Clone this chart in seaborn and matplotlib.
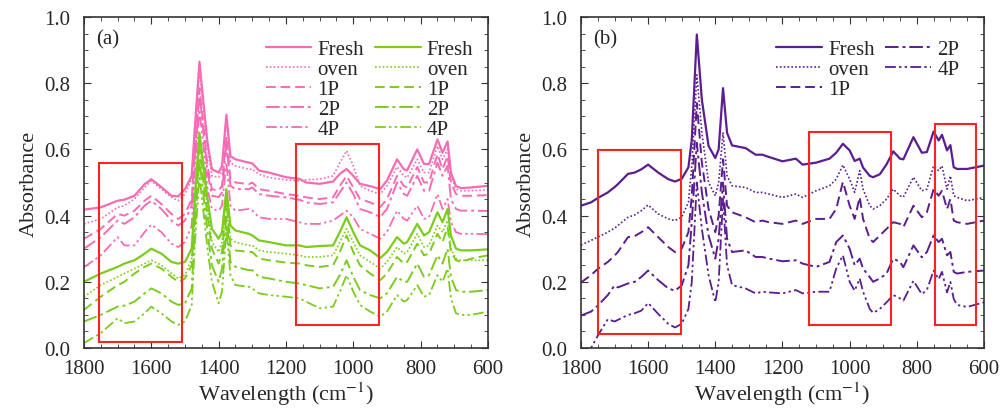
import matplotlib
matplotlib.use("Agg")
import matplotlib.pyplot as plt
import matplotlib.patches as patches
from matplotlib.ticker import MultipleLocator
import seaborn as sns

# wavenumber grids (cm-1)
wn_a = [1800, 1750, 1700, 1680, 1650, 1620, 1600, 1570, 1540, 1520, 1500, 1480, 1471, 1457, 1446, 1433,
        1420, 1400, 1390, 1377, 1365, 1350, 1310, 1300, 1280, 1250, 1200, 1160, 1140, 1100, 1060, 1040,
        1020, 1000, 980, 950, 920, 900, 870, 850, 840, 810, 790, 775, 750, 735, 720, 710, 695, 680, 650, 600]

wn_b = [1800, 1770, 1750, 1720, 1700, 1690, 1660, 1640, 1620, 1600, 1570, 1540, 1520, 1500, 1480, 1470,
        1455, 1440, 1420, 1400, 1390, 1377, 1365, 1350, 1310, 1280, 1260, 1240, 1200, 1160, 1140, 1100,
        1060, 1040, 1020, 1000, 985, 970, 960, 940, 930, 910, 890, 870, 850, 840, 810, 785, 770, 750,
        735, 725, 710, 700, 690, 680, 650, 600]

labels = ["Fresh", "oven", "1P", "2P", "4P"]

# panel (a) pink
pink_fresh = [.418, .425, .445, .448, .46, .495, .51, .486, .46, .458, .48, .52, .66, .865, .75, .62,
              .54, .53, .55, .705, .58, .57, .56, .558, .536, .53, .516, .511, .5, .496, .503, .526,
              .541, .52, .496, .489, .48, .506, .57, .54, .537, .6, .556, .556, .63, .59, .624, .53, .489, .483, .485, .49]
pink_oven = [.375, .39, .425, .43, .45, .485, .505, .48, .455, .445, .465, .51, .65, .84, .73, .6,
             .52, .516, .535, .69, .56, .55, .54, .54, .525, .515, .508, .505, .508, .51, .52, .56,
             .596, .55, .49, .475, .465, .49, .547, .52, .515, .57, .53, .53, .61, .57, .6, .52, .48, .475, .475, .478]
pink_1p = [.33, .36, .405, .40, .415, .445, .46, .435, .405, .39, .405, .45, .59, .785, .68, .55,
           .48, .475, .49, .64, .51, .50, .495, .5, .48, .475, .465, .46, .455, .45, .455, .49,
           .52, .485, .45, .44, .426, .45, .52, .49, .485, .547, .5, .5, .586, .54, .58, .5, .465, .46, .46, .462]
pink_2p = [.30, .335, .385, .375, .395, .43, .445, .42, .385, .37, .385, .43, .57, .77, .66, .53,
           .46, .456, .47, .62, .49, .48, .48, .485, .465, .46, .455, .448, .44, .435, .44, .47,
           .50, .465, .42, .41, .396, .42, .50, .465, .46, .52, .475, .475, .56, .52, .55, .45, .42, .415, .415, .414]
pink_4p = [.244, .28, .335, .31, .31, .35, .373, .35, .315, .305, .32, .37, .53, .72, .62, .48,
           .42, .415, .43, .56, .43, .415, .42, .415, .395, .39, .39, .38, .375, .375, .385, .4,
           .415, .395, .36, .345, .33, .35, .415, .39, .385, .43, .39, .395, .465, .42, .45, .38, .35, .345, .345, .344]

# panel (a) green
green_fresh = [.20, .225, .245, .255, .265, .285, .30, .285, .26, .255, .26, .30, .45, .65, .56, .45,
               .36, .33, .35, .48, .37, .355, .345, .34, .325, .32, .31, .31, .305, .308, .31, .35,
               .395, .35, .31, .295, .272, .29, .335, .315, .32, .375, .34, .35, .41, .38, .42, .34, .30, .295, .295, .298]
green_oven = [.155, .19, .215, .225, .24, .255, .265, .25, .225, .21, .22, .27, .43, .62, .53, .42,
              .32, .29, .32, .46, .33, .32, .31, .31, .295, .29, .285, .28, .275, .275, .28, .32,
              .36, .32, .28, .26, .24, .26, .305, .285, .29, .345, .305, .31, .37, .35, .385, .3, .27, .265, .265, .265]
green_1p = [.115, .155, .19, .2, .225, .245, .255, .24, .215, .2, .21, .25, .41, .6, .51, .4,
            .3, .255, .29, .44, .31, .295, .29, .29, .27, .265, .258, .255, .25, .245, .25, .29,
            .34, .29, .25, .225, .205, .225, .275, .255, .26, .315, .28, .285, .345, .32, .365, .29, .265, .26, .27, .28]
green_2p = [.08, .1, .125, .128, .14, .165, .18, .165, .14, .13, .135, .18, .36, .57, .47, .35,
            .25, .2, .24, .40, .26, .245, .235, .235, .215, .21, .2, .195, .19, .18, .185, .22,
            .265, .215, .175, .16, .15, .165, .215, .2, .2, .255, .215, .22, .28, .255, .3, .215, .175, .17, .17, .175]
green_4p = [.015, .045, .09, .075, .08, .105, .125, .105, .08, .07, .08, .13, .31, .52, .42, .3,
            .2, .135, .17, .36, .22, .19, .185, .18, .165, .16, .155, .15, .14, .12, .125, .17,
            .22, .17, .13, .11, .095, .11, .16, .14, .145, .19, .155, .16, .22, .2, .24, .15, .105, .1, .1, .11]

# panel (b) purple
purple_fresh = [.43, .44, .453, .47, .486, .495, .526, .53, .54, .554, .53, .51, .503, .511, .546, .63,
                .947, .75, .61, .574, .60, .785, .65, .612, .604, .584, .584, .577, .564, .572, .554, .56,
                .572, .59, .617, .597, .565, .572, .545, .52, .516, .525, .555, .594, .572, .57, .637, .59, .592, .654,
                .627, .644, .597, .613, .546, .541, .541, .551]
purple_oven = [.311, .325, .335, .35, .362, .37, .395, .402, .415, .432, .405, .39, .385, .395, .44, .55,
               .825, .65, .5, .46, .5, .65, .52, .49, .485, .47, .47, .465, .455, .465, .455, .475,
               .49, .51, .553, .51, .47, .536, .48, .43, .42, .43, .45, .48, .46, .456, .516, .475, .48, .55,
               .536, .55, .48, .52, .46, .455, .445, .455]
purple_1p = [.198, .22, .239, .26, .279, .29, .335, .338, .35, .365, .335, .305, .29, .30, .35, .46,
             .74, .56, .42, .35, .4, .57, .43, .41, .395, .38, .385, .38, .375, .385, .375, .39,
             .39, .42, .502, .43, .39, .456, .39, .33, .32, .34, .36, .38, .375, .365, .43, .395, .41, .48,
             .46, .475, .42, .45, .385, .38, .375, .385]
purple_2p = [.098, .11, .128, .16, .189, .183, .195, .2, .215, .234, .205, .18, .173, .189, .25, .38,
             .62, .47, .34, .27, .33, .50, .33, .29, .295, .275, .275, .27, .262, .265, .255, .245,
             .26, .32, .34, .30, .25, .27, .24, .214, .2, .21, .225, .27, .26, .244, .31, .274, .29, .34,
             .32, .33, .28, .29, .23, .225, .23, .234]
purple_4p = [-.03, 0.0, .037, .087, .08, .085, .10, .105, .113, .136, .103, .073, .062, .073, .118, .2,
             .5, .36, .22, .138, .2, .45, .25, .19, .18, .165, .17, .168, .165, .175, .165, .17,
             .17, .24, .28, .2, .173, .21, .17, .118, .106, .118, .138, .16, .15, .143, .203, .163, .175, .234,
             .208, .23, .168, .2, .148, .13, .124, .138]

# boxes: (wn_high, wn_low, y_bottom, y_top)
boxes_a = [(1755, 1510, 0.019, 0.558), (1170, 925, 0.07, 0.616)]
boxes_b = [(1748, 1503, 0.041, 0.599), (1120, 877, 0.07, 0.654), (747, 625, 0.07, 0.677)]

PINK = "#f66cb4"
GREEN = "#7ccc1e"
PURPLE = "#5b1d8f"
styles = ["-", (0, (1, 1.3)), (0, (5, 2.5)), (0, (7, 2, 1.5, 2)), (0, (6, 1.8, 1.3, 1.8, 1.3, 1.8))]
widths = [1.6, 1.2, 1.4, 1.4, 1.3]

sns.set_style("ticks")
plt.rcParams["font.family"] = ["Liberation Serif", "DejaVu Serif"]
plt.rcParams["mathtext.fontset"] = "stix"

fig = plt.figure(figsize=(10.02, 4.14), dpi=100)
ax_a = fig.add_axes([0.0838, 0.157, 0.4032, 0.7995])
ax_b = fig.add_axes([0.5798, 0.157, 0.4022, 0.7995])


def draw(ax, wn, series, color):
    for vals, lab, ls, lw in zip(series, labels, styles, widths):
        sns.lineplot(x=wn, y=vals, ax=ax, color=color, linestyle=ls, linewidth=lw,
                     label=lab, sort=False, estimator=None)


draw(ax_a, wn_a, [pink_fresh, pink_oven, pink_1p, pink_2p, pink_4p], PINK)
draw(ax_a, wn_a, [green_fresh, green_oven, green_1p, green_2p, green_4p], GREEN)
draw(ax_b, wn_b, [purple_fresh, purple_oven, purple_1p, purple_2p, purple_4p], PURPLE)

for ax, boxes, tag in [(ax_a, boxes_a, "(a)"), (ax_b, boxes_b, "(b)")]:
    for hi, lo, y0, y1 in boxes:
        ax.add_patch(patches.Rectangle((lo, y0), hi - lo, y1 - y0, fill=False,
                                       edgecolor="#ff2222", linewidth=1.5, zorder=5))
    ax.set_xlim(1800, 600)
    ax.set_ylim(0, 1.0)
    ax.xaxis.set_major_locator(MultipleLocator(200))
    ax.xaxis.set_minor_locator(MultipleLocator(50))
    ax.yaxis.set_major_locator(MultipleLocator(0.2))
    ax.yaxis.set_minor_locator(MultipleLocator(0.05))
    ax.yaxis.set_major_formatter(plt.FormatStrFormatter("%.1f"))
    ax.tick_params(which="both", direction="in", top=True, right=True, labelsize=15, color="#333333")
    ax.tick_params(axis="x", which="major", length=5, pad=8)
    ax.tick_params(axis="y", which="major", length=5, pad=10)
    ax.tick_params(which="minor", length=3)
    for s in ax.spines.values():
        s.set_linewidth(1.2)
        s.set_color("#333333")
    ax.set_xlabel("Wavelength (cm$^{-1}$)", fontsize=16, labelpad=1)
    ax.set_ylabel("Absorbance", fontsize=16, labelpad=4)
    ax.text(0.03, 0.935, tag, transform=ax.transAxes, fontsize=15, va="center")

ax_a.legend(loc="upper right", bbox_to_anchor=(1.0, 0.975), ncol=2, frameon=False, fontsize=15,
            handlelength=2.2, handletextpad=0.3, columnspacing=0.5, labelspacing=0.02, borderpad=0.2)
ax_b.legend(loc="upper right", bbox_to_anchor=(0.975, 0.975), ncol=2, frameon=False, fontsize=15,
            handlelength=2.2, handletextpad=0.3, columnspacing=0.5, labelspacing=0.02, borderpad=0.2)

fig.savefig("out.png", dpi=100)
